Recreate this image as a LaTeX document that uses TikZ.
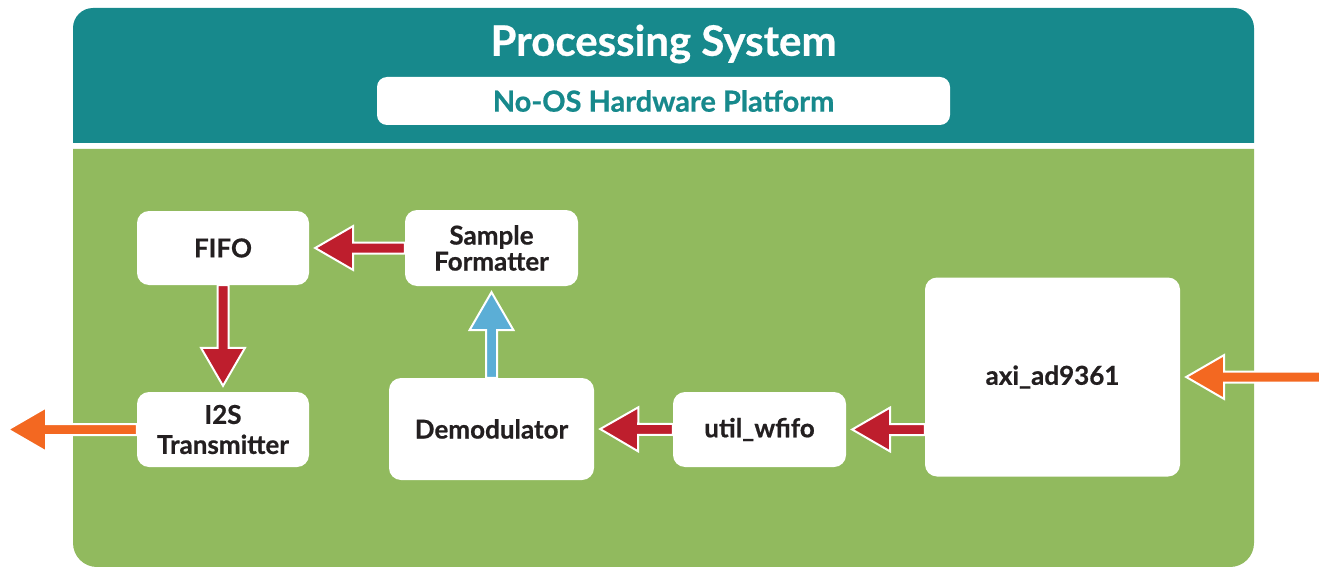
\documentclass[tikz,border=0pt]{standalone}
\usepackage{fontspec}
\setmainfont{Lato}[BoldFeatures={FakeBold=0.6}]
\usetikzlibrary{calc}
\definecolor{psteal}{RGB}{23,137,140}
\definecolor{plgreen}{RGB}{145,186,94}
\definecolor{arrred}{RGB}{190,30,45}
\definecolor{arrblue}{RGB}{91,174,214}
\definecolor{arrorange}{RGB}{243,104,33}
\definecolor{txtdark}{RGB}{35,31,32}
\newcommand\fatarrow[3]{%
\filldraw[fill=#1,draw=white,line width=2pt,line join=miter]
 let \p1=(#2),\p2=(#3),\n1={atan2(\y2-\y1,\x2-\x1)},\n2={veclen(\x2-\x1,\y2-\y1)-6pt} in
 ($(\p1)+(\n1+90:5.5pt)$)
 -- ($(\p1)+(\n1:{\n2-38pt})+(\n1+90:5.5pt)$)
 -- ($(\p1)+(\n1:{\n2-38pt})+(\n1+90:22pt)$)
 -- ($(\p1)+(\n1:{\n2})$)
 -- ($(\p1)+(\n1:{\n2-38pt})+(\n1-90:22pt)$)
 -- ($(\p1)+(\n1:{\n2-38pt})+(\n1-90:5.5pt)$)
 -- ($(\p1)+(\n1-90:5.5pt)$) -- cycle;}
\tikzset{
  block/.style={fill=white, rounded corners=12pt, inner sep=0pt, align=center,
    text=txtdark, font=\fontsize{26}{26}\selectfont\bfseries},
}
\begin{document}
\begin{tikzpicture}[x=1pt,y=-1pt]
\useasboundingbox (0,0) rectangle (1320,567);
% header
\fill[psteal] (73,143) [rounded corners=20pt] -- (73,8) -- (1254,8) [sharp corners] -- (1254,143) -- cycle;
\node[text=white, font=\fontsize{42}{42}\selectfont\bfseries] (title) at (663.5,44) {Processing System};
\node[fill=white, rounded corners=10pt, minimum width=573pt, minimum height=48pt, inner sep=0pt,
  text=psteal, font=\fontsize{29}{29}\selectfont\bfseries] (plat) at (663.5,101) {No-OS Hardware Platform};
% green panel
\fill[plgreen] (73,149) [rounded corners=24pt] -- (73,567) -- (1254,567) [sharp corners] -- (1254,149) -- cycle;
% blocks
\node[block, minimum width=172pt, minimum height=74pt] (fifo) at (223,248) {FIFO};
\node[block, minimum width=173pt, minimum height=76pt] (sf) at (491.5,248) {Sample\\[0pt]Formatter};
\node[block, minimum width=172pt, minimum height=75pt] (i2s) at (223,429.5) {I2S\\[4pt]Transmitter};
\node[block, minimum width=205pt, minimum height=102pt] (demod) at (491.5,429) {Demodulator};
\node[block, minimum width=173pt, minimum height=75pt] (util) at (759.5,429.5) {util\_wfifo};
\node[block, minimum width=255pt, minimum height=199pt] (axi) at (1052.5,377) {axi\_ad9361};
\coordinate (in) at (1320,377);
\coordinate (out) at (2,429.5);
% arrows
\fatarrow{arrred}{sf.west}{fifo.east}
\fatarrow{arrred}{fifo.south}{i2s.north}
\fatarrow{arrblue}{demod.north}{sf.south}
\fatarrow{arrred}{util.west}{demod.east}
\fatarrow{arrred}{axi.west |- util.east}{util.east}
\fatarrow{arrorange}{in}{axi.east}
\fatarrow{arrorange}{i2s.west}{out}
\end{tikzpicture}
\end{document}
